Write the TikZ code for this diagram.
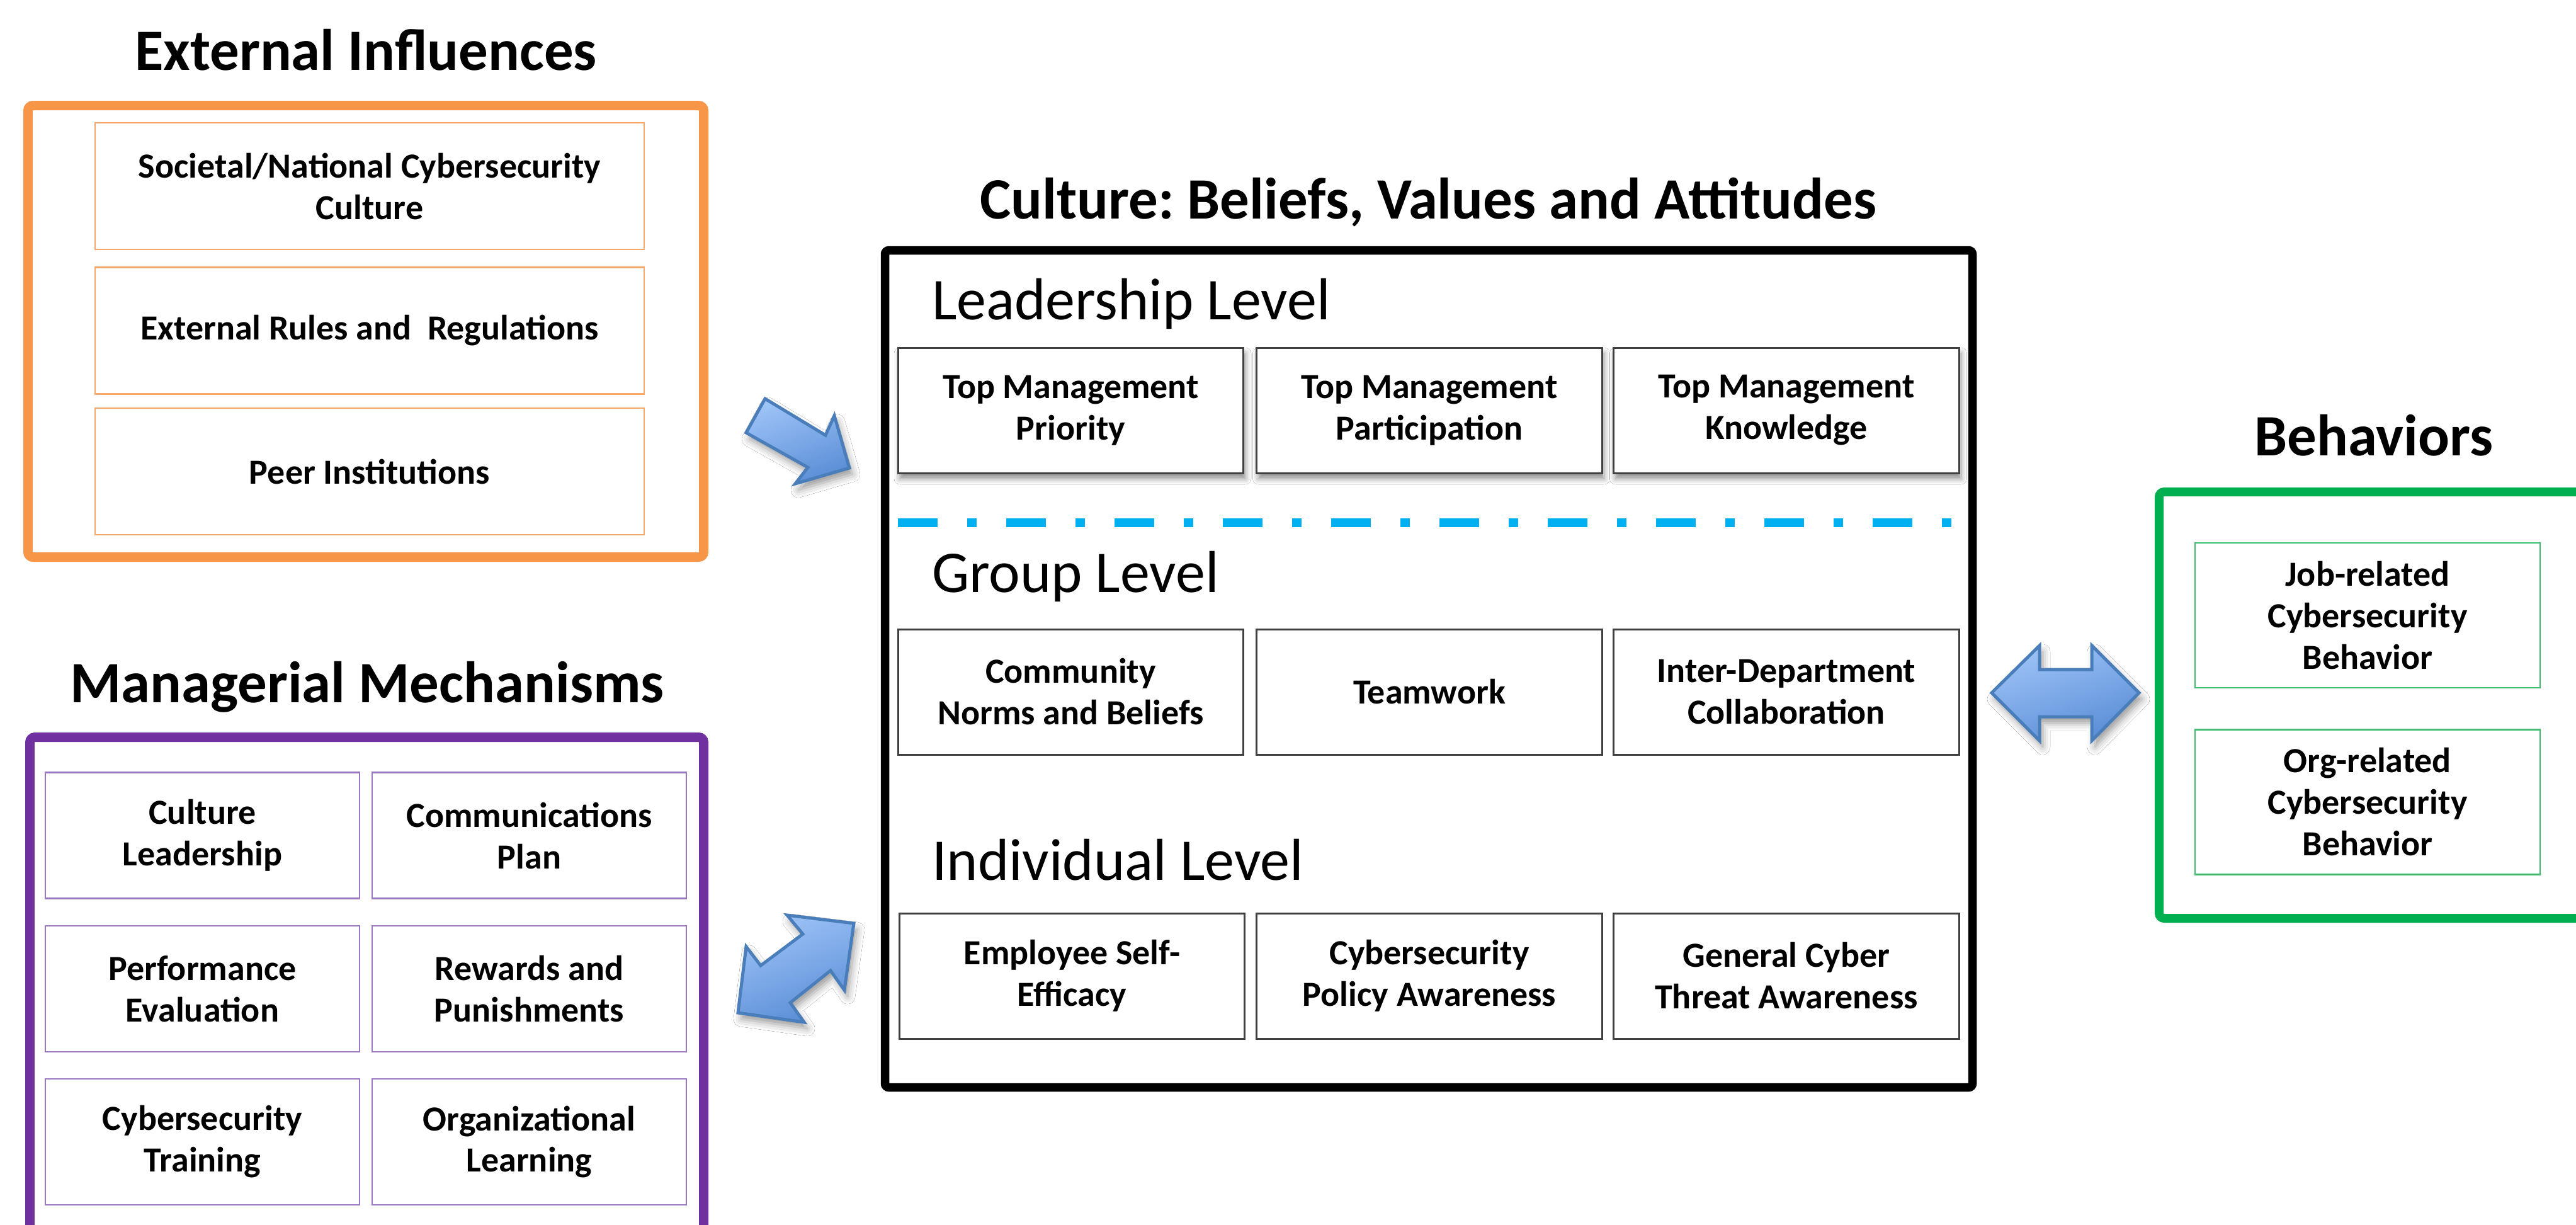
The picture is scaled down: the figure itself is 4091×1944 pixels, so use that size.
\documentclass[tikz,border=0pt]{standalone}
\usepackage{fontspec}
\setmainfont{Carlito}
\usetikzlibrary{shadows.blur}
\frenchspacing
\definecolor{orng}{HTML}{F79646}
\definecolor{orngthin}{HTML}{F6A86A}
\definecolor{purp}{HTML}{7030A0}
\definecolor{purpthin}{HTML}{9A78C2}
\definecolor{grn}{HTML}{00B050}
\definecolor{grnthin}{HTML}{3DBE70}
\definecolor{boxgray}{HTML}{404040}
\definecolor{cyanline}{HTML}{00B0F0}
\definecolor{arrowlight}{HTML}{9DC3F7}
\definecolor{arrowdark}{HTML}{5A8DD6}
\definecolor{arrowedge}{HTML}{4A7EBB}
\begin{document}
\begin{tikzpicture}[x=0.1pt,y=-0.1pt,
  ttl/.style={font=\bfseries\fontsize{9.3}{11}\selectfont, anchor=base, inner sep=0pt},
  lvl/.style={font=\fontsize{9.4}{11}\selectfont, anchor=base west, inner sep=0pt},
  ibox/.style={draw, line width=0.25pt, align=center, inner sep=0pt, outer sep=0pt,
    fill=white, font=\bfseries\fontsize{5.6}{6.6}\selectfont},
  obox/.style={ibox, draw=orngthin, minimum width=87.2pt, minimum height=20.1pt},
  pbox/.style={ibox, draw=purpthin, minimum width=49.9pt, minimum height=20pt},
  cbox/.style={ibox, draw=boxgray, line width=0.3pt, minimum width=54.9pt, minimum height=19.9pt},
  gbox/.style={ibox, draw=grnthin, minimum width=54.8pt, minimum height=23pt},
  shbox/.style={blur shadow={shadow xshift=0.3pt, shadow yshift=-0.9pt, shadow blur radius=0.9pt, shadow opacity=45}},
  frame/.style={line width=1.5pt, rounded corners=0.8pt},
  blockarrow/.style={draw=arrowedge, line width=0.5pt, line join=miter,
    top color=arrowlight, bottom color=arrowdark, shading angle=20,
    blur shadow={shadow xshift=0.5pt, shadow yshift=-1pt, shadow blur radius=1.2pt, shadow opacity=40}}
]
\useasboundingbox (0,0) rectangle (4091,1944);
\clip (0,0) rectangle (4091,1944);
\fill[white] (0,0) rectangle (4091,1944);

% ---------- External Influences ----------
\node[ttl] (tExt) at (581,111.5) {External Influences};
\draw[frame, draw=orng] (44.5,167.5) rectangle (1117.5,884.5);
\node[obox] (e1) at (587,295.5) {Societal/National Cybersecurity\\Culture};
\node[obox] (e2) at (587,525) {External Rules and\ \ Regulations};
\node[obox] (e3) at (587,748.5) {Peer Institutions};

% ---------- Managerial Mechanisms ----------
\node[ttl] (tMan) at (583,1115) {Managerial Mechanisms};
\draw[frame, draw=purp] (47.5,2100) -- (47.5,1170.5) -- (1117.5,1170.5) -- (1117.5,2100);
\node[pbox] (m1) at (321.5,1326.5) {Culture\\Leadership};
\node[pbox] (m2) at (840.5,1326.5) {Communications\\Plan};
\node[pbox] (m3) at (321.5,1570) {Performance\\Evaluation};
\node[pbox] (m4) at (840.5,1570) {Rewards and\\Punishments};
\node[pbox] (m5) at (321.5,1813) {Cybersecurity\\Training};
\node[pbox] (m6) at (840.5,1813) {Organizational\\Learning};

% ---------- Culture ----------
\node[ttl] (tCul) at (2268,347) {Culture: Beliefs, Values and Attitudes};
\draw[line width=1.35pt, rounded corners=0.6pt] (1405.5,397.5) rectangle (3132.5,1726.5);
\node[lvl] (lLead) at (1478,507) {Leadership Level};
\node[cbox, shbox] (c1) at (1700.5,651.5) {Top Management\\Priority};
\node[cbox, shbox] (c2) at (2270,651.5) {Top Management\\Participation};
\node[cbox, shbox] (c3) at (2837,651.5) {Top Management\\Knowledge};
\coordinate (dl) at (1426,830);
\coordinate (dr) at (3100,830);
\draw[cyanline, line width=1.35pt, dash pattern=on 6.3pt off 4.7pt on 1.5pt off 4.7pt] (dl) -- (dr);
\node[lvl] (lGrp) at (1478,940) {Group Level};
\node[cbox] (g1) at (1700.5,1098.5) {Community\\Norms and Beliefs};
\node[cbox] (g2) at (2270,1098.5) {Teamwork};
\node[cbox] (g3) at (2837,1098.5) {Inter-Department\\Collaboration};
\node[lvl] (lInd) at (1478,1397) {Individual Level};
\node[cbox] (i1) at (1702.5,1549.5) {Employee Self-\\Efficacy};
\node[cbox] (i2) at (2270,1549.5) {Cybersecurity\\Policy Awareness};
\node[cbox] (i3) at (2837,1549.5) {General Cyber\\Threat Awareness};

% ---------- Behaviors ----------
\node[ttl] (tBeh) at (3770,723) {Behaviors};
\draw[frame, line width=1.4pt, draw=grn] (4200,781) -- (3429,781) -- (3429,1458) -- (4200,1458);
\node[gbox] (b1) at (3760,977) {Job-related\\Cybersecurity\\Behavior};
\node[gbox] (b2) at (3760,1273.5) {Org-related\\Cybersecurity\\Behavior};

% ---------- Block arrows ----------
\draw[blockarrow] (1215,633) -- (1311,691) -- (1325,660) -- (1349,743) -- (1263,768)
  -- (1283,742) -- (1185,687) -- cycle;
\draw[blockarrow] (3163,1100) -- (3239,1025) -- (3239,1063) -- (3322,1063) -- (3322,1025)
  -- (3397,1100) -- (3322,1176) -- (3322,1138) -- (3239,1138) -- (3239,1176) -- cycle;
\draw[blockarrow] (1356,1466) -- (1341,1572) -- (1319,1541) -- (1255,1592) -- (1277,1623)
  -- (1172,1608) -- (1185,1503) -- (1208,1533) -- (1275,1483) -- (1250,1453) -- cycle;
\end{tikzpicture}
\end{document}
